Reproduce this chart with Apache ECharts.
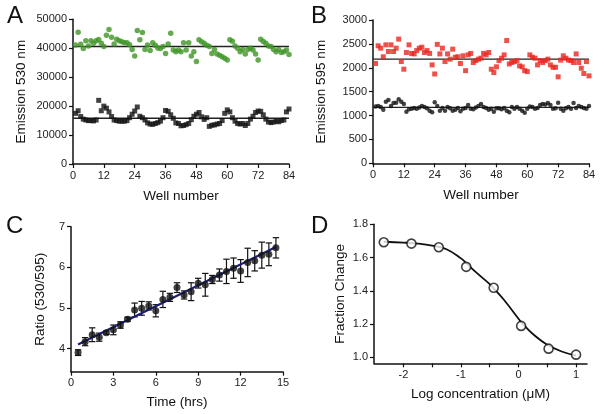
<!DOCTYPE html>
<html><head><meta charset="utf-8">
<script src="https://cdn.jsdelivr.net/npm/echarts@6/dist/echarts.min.js"></script>
<style>html,body{margin:0;padding:0;background:#fff}#c{width:604px;height:414px}</style>
</head><body><div id="c"></div>
<script>
// ---------- Data ----------
const wells = [1,2,3,4,5,6,7,8,9,10,11,12,13,14,15,16,17,18,19,20,21,22,23,24,25,26,27,28,29,30,31,32,33,34,35,36,37,38,39,40,41,42,43,44,45,46,47,48,49,50,51,52,53,54,55,56,57,58,59,60,61,62,63,64,65,66,67,68,69,70,71,72,73,74,75,76,77,78,79,80,81,82,83,84];
const emission530Green = [
41100,45500,41400,39900,42600,40800,42600,41700,42600,43000,41700,40600,
44500,46500,43800,41500,43100,42600,42200,41900,41900,41200,39600,37300,
46100,42900,45400,39600,41100,39200,41900,41000,40100,39900,40600,38200,
41500,45200,39400,38800,39400,38800,41900,39400,41900,37300,38800,35400,
42900,42200,41700,41000,40600,38200,39600,38000,37600,37100,36500,35900,
42900,42400,40800,40000,38800,39600,38000,39600,40000,39400,38000,35900,
43100,42300,41700,40800,40600,39600,38800,39600,38500,38800,39400,37800];
const emission530Black = [
17500,18400,16400,15500,15200,15000,15000,14900,15200,22000,18400,20000,
19300,18000,16400,15200,15000,14800,14800,14800,15000,16000,17200,18300,
19700,16500,16000,15200,14200,13800,13700,14000,14300,14800,16000,18500,
18200,17000,15800,14200,14000,13200,13300,13600,14000,15300,16500,17200,
17800,16300,15400,16000,13000,13400,13500,13800,14000,15000,17500,18700,
18000,16000,14800,14000,13800,14000,13300,14000,15500,16500,17800,18300,
18200,17000,15500,14500,14300,14500,14800,14600,15000,15200,18000,19000];
const emission595Red = [
2090,2460,2410,2230,2480,2340,2480,2340,2410,2600,2130,1970,
2320,2480,2300,2290,2360,2410,2430,2320,2360,2300,2060,1870,
2490,2290,2410,2130,2290,2180,2390,2220,2230,2090,2250,1940,
2270,2300,2110,2150,2180,2200,2300,2270,2320,1970,1900,2020,
2150,2200,2270,2570,2080,2110,2130,2150,2040,2020,1940,1920,
2270,2220,2200,2060,2150,2110,2150,2180,2060,2010,2010,1810,
2160,2250,2200,2160,2150,2110,2290,2110,1990,1880,2130,1830];
const emission595Black = [
1190,1200,1180,1120,1290,1325,1200,1260,1270,1340,1290,1240,
1080,1130,1140,1160,1140,1170,1200,1180,1150,1100,1070,1280,
1200,1100,1160,1100,1180,1150,1100,1120,1160,1090,1140,1160,
1220,1140,1130,1170,1200,1240,1180,1160,1120,1140,1080,1150,
1150,1130,1160,1100,1070,1180,1140,1180,1140,1100,1060,1140,
1190,1180,1140,1160,1220,1240,1230,1260,1220,1140,1150,1270,
1140,1100,1150,1180,1140,1260,1160,1200,1180,1160,1140,1200];
const meanLineWells = [0, 84];
const mean530Green = 40600, mean530Black = 15800;
const mean595Red = 2180, mean595Black = 1170;

const hours = [0.5,1,1.5,2,2.5,3,3.5,4,4.5,5,5.5,6,6.5,7,7.5,8,8.5,9,9.5,10,10.5,11,11.5,12,12.5,13,13.5,14,14.5];
const ratio = [3.90,4.17,4.34,4.28,4.39,4.46,4.58,4.72,4.95,4.99,5.05,4.93,5.21,5.26,5.50,5.32,5.40,5.61,5.57,5.70,5.81,5.90,5.98,5.91,6.12,6.16,6.30,6.32,6.48];
const ratioErr = [0.07,0.10,0.17,0.10,0.04,0.12,0.08,0.05,0.17,0.17,0.10,0.15,0.20,0.10,0.12,0.10,0.22,0.12,0.28,0.10,0.15,0.30,0.25,0.28,0.35,0.25,0.32,0.28,0.25];
const fitHours = [0.5, 14.5];
const fitRatio = [4.10, 6.50];

const logConc = [-2.34,-1.86,-1.385,-0.908,-0.431,0.046,0.523,1.0];
const fracChange = [1.692,1.684,1.662,1.544,1.418,1.189,1.052,1.016];
const curveX = [-2.34,-2,-1.75,-1.5,-1.25,-1,-0.9,-0.75,-0.5,-0.43,-0.25,0,0.05,0.25,0.5,0.75,1.0];
const curveY = [1.695,1.69,1.684,1.672,1.65,1.595,1.565,1.515,1.44,1.415,1.345,1.232,1.21,1.14,1.075,1.035,1.01];

const ticksCy = [4,5,6,7];
const ticksDx = [-2,-1.5,-1,-0.5,0,0.5,1];
const labelsDx = [-2,-1,0,1];
const ticksDy = [1.0,1.2,1.4,1.6,1.8];

// ---------- Chart ----------
const FF = '"Liberation Sans", Arial, Helvetica, sans-serif';
const AX = '#111';
const plain = v => String(v);
function xAx(grid, min, max, interval, name, gap, extra){
  return Object.assign({
    type:'value', gridIndex:grid, min:min, max:max, interval:interval,
    name:name, nameLocation:'middle', nameGap:gap,
    nameTextStyle:{fontFamily:FF,fontSize:13.5,color:'#111'},
    axisLine:{show:true,onZero:false,lineStyle:{color:AX,width:1.5}},
    axisTick:{show:true,length:4,lineStyle:{color:AX,width:1.2}},
    axisLabel:{fontFamily:FF,fontSize:11,color:'#222',margin:6,formatter:plain},
    splitLine:{show:false}
  }, extra||{});
}
function yAx(grid, min, max, interval, name, gap, extra){
  return Object.assign({
    type:'value', gridIndex:grid, min:min, max:max, interval:interval,
    name:name, nameLocation:'middle', nameGap:gap, nameRotate:90,
    nameTextStyle:{fontFamily:FF,fontSize:13.5,color:'#111'},
    axisLine:{show:true,onZero:false,lineStyle:{color:AX,width:1.5}},
    axisTick:{show:true,length:4,lineStyle:{color:AX,width:1.2}},
    axisLabel:{fontFamily:FF,fontSize:11,color:'#222',margin:6,formatter:plain},
    splitLine:{show:false}
  }, extra||{});
}
const pairs = (xs, ys) => xs.map((x,i)=>[x, ys[i]]);

const option = {
  animation:false,
  backgroundColor:'#fff',
  grid:[
    {left:73, top:19.3, width:216, height:144.7},
    {left:373, top:20, width:216, height:143.3},
    {left:71, top:226.7, width:212, height:145},
    {left:374, top:224.3, width:213, height:139}
  ],
  xAxis:[
    xAx(0,0,84,12,'Well number',25),
    xAx(1,0,84,12,'Well number',25),
    xAx(2,0,15,3,'Time (hrs)',24),
    xAx(3,-2.51,1.19,null,'Log concentration (\u03bcM)',24,{
      axisTick:{show:true,length:4,lineStyle:{color:AX,width:1.2},customValues:ticksDx},
      axisLabel:{fontFamily:FF,fontSize:11,color:'#222',margin:6,customValues:labelsDx,formatter:plain}
    })
  ],
  yAxis:[
    yAx(0,0,50000,10000,'Emission 530 nm',45),
    yAx(1,0,3000,500,'Emission 595 nm',45),
    yAx(2,3.43,7,null,'Ratio (530/595)',24,{
      axisTick:{show:true,length:4,lineStyle:{color:AX,width:1.2},customValues:ticksCy},
      axisLabel:{fontFamily:FF,fontSize:11,color:'#222',margin:6,customValues:ticksCy,formatter:plain}
    }),
    yAx(3,0.964,1.8,null,'Fraction Change',27,{
      axisTick:{show:true,length:4,lineStyle:{color:AX,width:1.2},customValues:ticksDy},
      axisLabel:{fontFamily:FF,fontSize:11,color:'#222',margin:6,customValues:ticksDy,
        formatter:v=>Number(v).toFixed(1)}
    })
  ],
  graphic:[
    {type:'text',left:7,top:4,style:{text:'A',font:'24px '+FF,fill:'#111'}},
    {type:'text',left:311,top:4,style:{text:'B',font:'24px '+FF,fill:'#111'}},
    {type:'text',left:6,top:214,style:{text:'C',font:'24px '+FF,fill:'#111'}},
    {type:'text',left:311,top:214,style:{text:'D',font:'24px '+FF,fill:'#111'}}
  ],
  series:[
    {type:'line',xAxisIndex:0,yAxisIndex:0,data:meanLineWells.map(w=>[w,mean530Green]),symbol:'none',lineStyle:{color:'#222',width:1.4},z:1},
    {type:'line',xAxisIndex:0,yAxisIndex:0,data:meanLineWells.map(w=>[w,mean530Black]),symbol:'none',lineStyle:{color:'#222',width:1.4},z:1},
    {type:'scatter',xAxisIndex:0,yAxisIndex:0,data:pairs(wells,emission530Green),symbol:'circle',symbolSize:5.5,itemStyle:{color:'#3f9526'},z:3},
    {type:'scatter',xAxisIndex:0,yAxisIndex:0,data:pairs(wells,emission530Black),symbol:'rect',symbolSize:5,itemStyle:{color:'#111'},z:3},

    {type:'line',xAxisIndex:1,yAxisIndex:1,data:meanLineWells.map(w=>[w,mean595Red]),symbol:'none',lineStyle:{color:'#222',width:1.4},z:1},
    {type:'line',xAxisIndex:1,yAxisIndex:1,data:meanLineWells.map(w=>[w,mean595Black]),symbol:'none',lineStyle:{color:'#222',width:1.4},z:1},
    {type:'scatter',xAxisIndex:1,yAxisIndex:1,data:pairs(wells,emission595Red),symbol:'rect',symbolSize:5,itemStyle:{color:'#e8261e'},z:3},
    {type:'scatter',xAxisIndex:1,yAxisIndex:1,data:pairs(wells,emission595Black),symbol:'circle',symbolSize:4.5,itemStyle:{color:'#111'},z:3},

    {type:'custom',xAxisIndex:2,yAxisIndex:2,
      data:hours.map((h,i)=>[h, ratio[i]-ratioErr[i], ratio[i]+ratioErr[i]]),
      encode:{x:0,y:[1,2]},
      renderItem:function(params, api){
        const x=api.value(0), lo=api.value(1), hi=api.value(2);
        const a=api.coord([x,lo]), b=api.coord([x,hi]); const w=3.2;
        const st={stroke:'#111',lineWidth:1.2};
        return {type:'group',children:[
          {type:'line',shape:{x1:a[0],y1:a[1],x2:b[0],y2:b[1]},style:st},
          {type:'line',shape:{x1:a[0]-w,y1:a[1],x2:a[0]+w,y2:a[1]},style:st},
          {type:'line',shape:{x1:b[0]-w,y1:b[1],x2:b[0]+w,y2:b[1]},style:st}
        ]};
      }, z:2},
    {type:'line',xAxisIndex:2,yAxisIndex:2,data:pairs(fitHours,fitRatio),symbol:'none',lineStyle:{color:'#1c1f7a',width:2.2},z:3},
    {type:'scatter',xAxisIndex:2,yAxisIndex:2,data:pairs(hours,ratio),symbol:'circle',symbolSize:7,itemStyle:{color:'#111'},z:4},

    {type:'line',xAxisIndex:3,yAxisIndex:3,data:pairs(curveX,curveY),symbol:'none',smooth:0.4,lineStyle:{color:'#111',width:1.8},z:2},
    {type:'scatter',xAxisIndex:3,yAxisIndex:3,data:pairs(logConc,fracChange),symbol:'circle',symbolSize:9,itemStyle:{color:'#fff',borderColor:'#111',borderWidth:1.6},z:4}
  ]
};
const chart = echarts.init(document.getElementById('c'), null, {renderer:'canvas'});
chart.setOption(option);
</script></body></html>
